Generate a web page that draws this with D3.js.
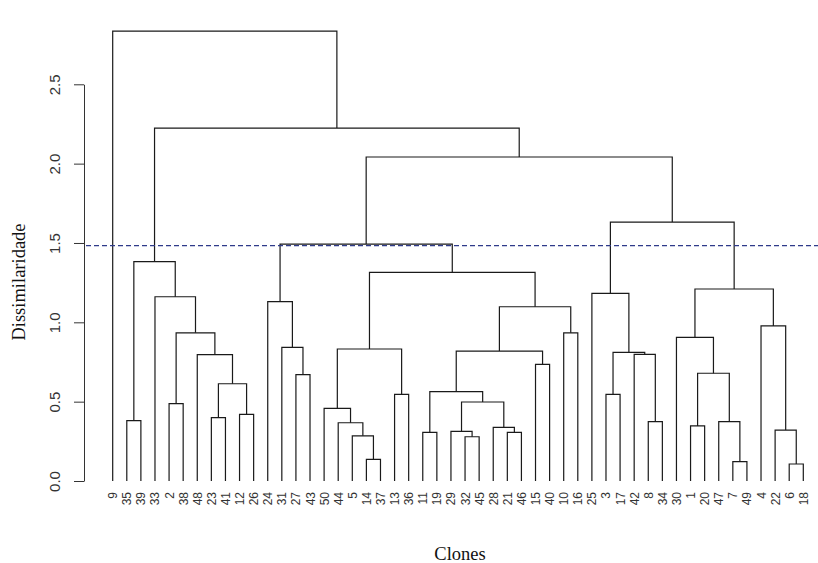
<!DOCTYPE html>
<html>
<head>
<meta charset="utf-8">
<script src="https://cdn.jsdelivr.net/npm/d3@7"></script>
<style>
  body { margin: 0; background: #fff; }
  svg { display: block; background: #fff; }
</style>
</head>
<body>
<svg id="canvas" width="818" height="563"></svg>
<script>
//Leaf order along the bottom
var clones = [9,35,39,33,2,38,48,23,41,12,26,24,31,27,43,50,44,5,14,37,13,36,11,19,29,32,45,28,21,46,15,40,10,16,25,3,17,42,8,34,30,1,20,47,7,49,4,22,6,18];

//Merge table, same idea as R's hclust$merge:
//negative number = a clone, positive number = an earlier row (1-based)
var merges = [
  [-35,-39],[-2,-38],[-23,-41],[-12,-26],[3,4],[-48,5],[2,6],[-33,7],[1,8],
  [-27,-43],[-31,10],[-24,11],
  [-14,-37],[-5,13],[-44,14],[-50,15],[-13,-36],[16,17],
  [-11,-19],[-32,-45],[-29,20],[-21,-46],[-28,22],[21,23],[19,24],[-15,-40],[25,26],[-10,-16],[27,28],
  [18,29],[12,30],
  [-3,-17],[-8,-34],[-42,33],[32,34],[-25,35],
  [-1,-20],[-7,-49],[-47,38],[37,39],[-30,40],[-6,-18],[-22,42],[-4,43],[41,44],
  [36,45],[31,46],[9,47],[-9,48]
];
var heights = [
  0.380,0.487,0.399,0.420,0.613,0.796,0.934,1.161,1.382,
  0.670,0.842,1.130,
  0.136,0.285,0.367,0.458,0.546,0.832,
  0.307,0.279,0.313,0.307,0.338,0.498,0.563,0.735,0.819,0.934,1.098,
  1.315,1.493,
  0.546,0.374,0.798,0.811,1.183,
  0.347,0.122,0.374,0.679,0.905,0.107,0.321,0.977,1.210,
  1.632,2.042,2.224,2.835
];
var yTicks = [0, 0.5, 1.0, 1.5, 2.0, 2.5];
var cutHeight = 1.483;

var svg = d3.select("#canvas"),
  width = +svg.attr("width"),
  height = +svg.attr("height");

var sans = "'Liberation Sans', Arial, sans-serif";
var serif = "'Liberation Serif', 'Times New Roman', serif";

//Scales
var x = d3.scalePoint()
  .domain(clones)
  .range([112.7, 803.3]);

var y = d3.scaleLinear()
  .domain([0, 2.5])
  .range([481, 84.3]);

//Work out x position and height of every node
var nodes = [];
function place(ref) {
  if (ref < 0) return { x: x(-ref), h: 0 };
  return nodes[ref - 1];
}
merges.forEach(function(m, i) {
  var a = place(m[0]), b = place(m[1]);
  nodes.push({ x: (a.x + b.x) / 2, h: heights[i], left: a, right: b });
});

//Dendrogram lines
svg.append("g")
  .attr("class", "tree")
  .selectAll("path")
  .data(nodes)
  .enter().append("path")
  .attr("fill", "none")
  .attr("stroke", "#1a1a1a")
  .attr("stroke-width", 1.2)
  .attr("d", function(d) {
    return "M" + d.left.x + "," + y(d.left.h) +
      "V" + y(d.h) + "H" + d.right.x + "V" + y(d.right.h);
  });

//Cut line
svg.append("line")
  .attr("x1", 86).attr("x2", width)
  .attr("y1", y(cutHeight)).attr("y2", y(cutHeight))
  .attr("stroke", "#2f3b8a")
  .attr("stroke-width", 1.2)
  .attr("stroke-dasharray", "5,3");

//Y axis, R style (rotated labels)
var yAxis = svg.append("g")
  .attr("transform", "translate(84,0)")
  .call(d3.axisLeft(y).tickValues(yTicks).tickSize(10).tickSizeOuter(0).tickFormat(d3.format(".1f")));
yAxis.select(".domain").attr("stroke", "#333");
yAxis.selectAll(".tick line").attr("stroke", "#333");
yAxis.selectAll(".tick text")
  .attr("x", 0).attr("dy", 0)
  .attr("text-anchor", "middle")
  .attr("transform", "translate(-24,0) rotate(-90)")
  .attr("fill", "#333")
  .style("font-family", sans)
  .style("font-size", "15px");

//Leaf labels
svg.append("g")
  .selectAll("text")
  .data(clones)
  .enter().append("text")
  .attr("transform", function(d) { return "translate(" + (x(d) + 4.5) + ",492) rotate(-90)"; })
  .attr("text-anchor", "end")
  .attr("fill", "#333")
  .style("font-family", sans)
  .style("font-size", "12px")
  .text(function(d) { return d; });

//Axis titles
svg.append("text")
  .attr("transform", "translate(25,282) rotate(-90)")
  .attr("text-anchor", "middle")
  .style("font-family", serif)
  .style("font-size", "18.5px")
  .attr("fill", "#111")
  .text("Dissimilaridade");

svg.append("text")
  .attr("x", 460).attr("y", 560)
  .attr("text-anchor", "middle")
  .style("font-family", serif)
  .style("font-size", "18.5px")
  .attr("fill", "#111")
  .text("Clones");
</script>
</body>
</html>
